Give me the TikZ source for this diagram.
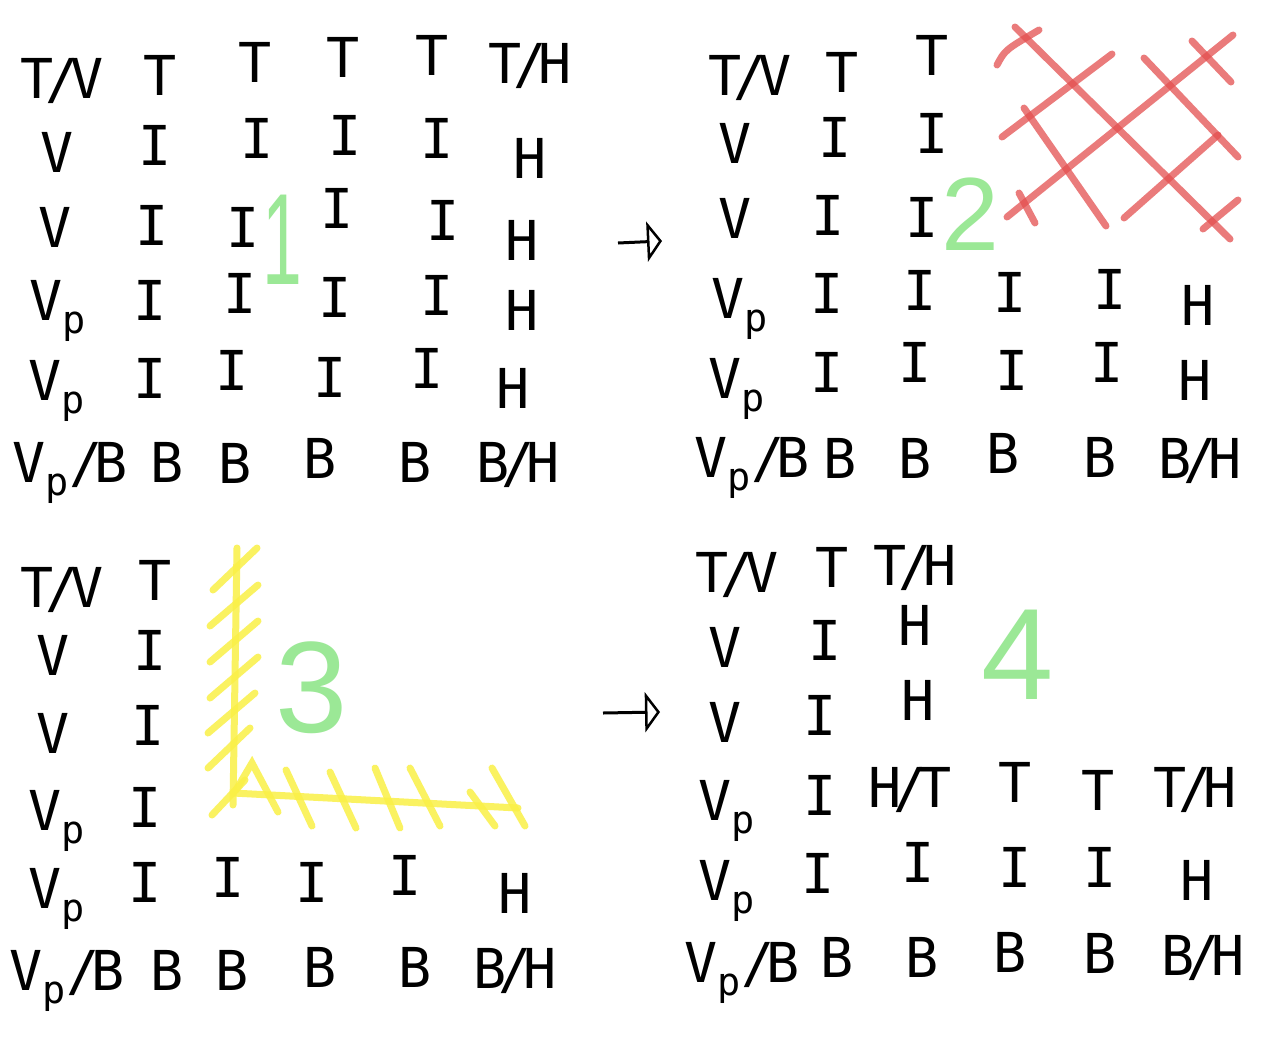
\documentclass[tikz,border=0pt]{standalone}
\usepackage{fontspec}
\setmainfont{DejaVu Sans Mono}
\newfontfamily\numfont{Liberation Sans}
\usetikzlibrary{arrows.meta}
\definecolor{hwgreen}{RGB}{155,232,150}
\definecolor{hwred}{RGB}{228,80,80}
\definecolor{hwyellow}{RGB}{250,240,70}
\tikzset{
  glyph/.style={font=\fontsize{55}{55}\selectfont, inner sep=0pt, text height=40pt, text depth=0pt, anchor=center},
  pair/.style={glyph, font=\fontsize{55}{55}\selectfont\addfontfeature{LetterSpace=-14}},
  numst/.style={font=\numfont\fontsize{130}{130}\selectfont, text=hwgreen, inner sep=0pt},
  redline/.style={draw=hwred, line width=7pt, line cap=round, opacity=0.75},
  yelline/.style={draw=hwyellow, line width=7pt, line cap=round, opacity=0.85},
  hwarrow/.style={draw=black, line width=3pt, -{Triangle[open, length=15pt, width=40pt, line width=2.5pt]}}
}
\begin{document}
\begin{tikzpicture}[x=1pt, y=-1pt]
\useasboundingbox (0,0) rectangle (1280,1045);
\fill[white] (0,0) rectangle (1280,1045);

% ---------- red cross hatch (panel 2) ----------
\draw[redline] (1015,27) -- (1230,239);
\draw[redline] (1024,108) -- (1106,226);
\draw[redline] (1144,58) -- (1238,157);
\draw[redline] (1192,41) -- (1231,82);
\draw[redline] (1019,193) -- (1035,223);
\draw[redline] (997,65) .. controls (1005,50) .. (1039,30);
\draw[redline] (1002,137) -- (1112,54);
\draw[redline] (1007,217) -- (1233,35);
\draw[redline] (1124,218) -- (1218,135);
\draw[redline] (1203,229) -- (1238,200);

% ---------- yellow L hatch (panel 3) ----------
\draw[yelline] (237,548) -- (233,805);
\draw[yelline] (233,793) -- (518,808);
\draw[yelline] (213,590) -- (257,548);
\draw[yelline] (210,626) -- (258,585);
\draw[yelline] (210,662) -- (258,621);
\draw[yelline] (210,698) -- (258,657);
\draw[yelline] (208,733) -- (255,693);
\draw[yelline] (208,768) -- (250,728);
\draw[yelline] (212,815) -- (245,780);
\draw[yelline] (236,790) -- (252,763) -- (278,812);
\draw[yelline] (286,770) -- (312,826);
\draw[yelline] (330,772) -- (356,828);
\draw[yelline] (375,768) -- (400,828);
\draw[yelline] (410,768) -- (440,826);
\draw[yelline] (470,792) -- (495,826);
\draw[yelline] (492,768) -- (525,826);

% ---------- green numbers ----------
\node[numst, xscale=0.55, transform shape] (n1) at (282,240) {1};
\node[numst, font=\numfont\fontsize{104}{104}\selectfont] (n2) at (970,214) {2};
\node[numst] (n3) at (312,688) {3};
\node[numst] (n4) at (1018,655) {4};

% ---------- panel 1 ----------
\node[pair]  (a00) at (62,78) {T/V};
\node[glyph] (a01) at (160,75) {T};
\node[glyph] (a02) at (255,62) {T};
\node[glyph] (a03) at (343,57) {T};
\node[glyph] (a04) at (432,55) {T};
\node[pair]  (a05) at (530,63) {T/H};
\node[glyph] (a10) at (57,152) {V};
\node[glyph] (a11) at (155,145) {I};
\node[glyph] (a12) at (257,138) {I};
\node[glyph] (a13) at (345,135) {I};
\node[glyph] (a14) at (437,138) {I};
\node[glyph] (a15) at (530,158) {H};
\node[glyph] (a20) at (55,227) {V};
\node[glyph] (a21) at (152,225) {I};
\node[glyph] (a22) at (243,227) {I};
\node[glyph] (a23) at (337,208) {I};
\node[glyph] (a24) at (443,220) {I};
\node[glyph] (a25) at (522,240) {H};
\node[pair]  (a30) at (58,300) {V\textsubscript{p}};
\node[glyph] (a31) at (150,300) {I};
\node[glyph] (a32) at (240,293) {I};
\node[glyph] (a33) at (335,297) {I};
\node[glyph] (a34) at (437,295) {I};
\node[glyph] (a35) at (522,310) {H};
\node[pair]  (a40) at (57,380) {V\textsubscript{p}};
\node[glyph] (a41) at (150,378) {I};
\node[glyph] (a42) at (232,370) {I};
\node[glyph] (a43) at (330,377) {I};
\node[glyph] (a44) at (427,368) {I};
\node[glyph] (a45) at (513,388) {H};
\node[pair]  (a50) at (70,462) {V\textsubscript{p}/B};
\node[glyph] (a51) at (167,462) {B};
\node[glyph] (a52) at (235,463) {B};
\node[glyph] (a53) at (320,458) {B};
\node[glyph] (a54) at (415,462) {B};
\node[pair]  (a55) at (518,462) {B/H};

% ---------- panel 2 ----------
\node[pair]  (b00) at (750,75) {T/V};
\node[glyph] (b01) at (842,72) {T};
\node[glyph] (b02) at (932,55) {T};
\node[glyph] (b10) at (735,143) {V};
\node[glyph] (b11) at (835,137) {I};
\node[glyph] (b12) at (932,133) {I};
\node[glyph] (b20) at (735,218) {V};
\node[glyph] (b21) at (828,215) {I};
\node[glyph] (b22) at (922,217) {I};
\node[pair]  (b30) at (740,298) {V\textsubscript{p}};
\node[glyph] (b31) at (827,293) {I};
\node[glyph] (b32) at (920,290) {I};
\node[glyph] (b33) at (1010,292) {I};
\node[glyph] (b34) at (1110,289) {I};
\node[glyph] (b35) at (1198,305) {H};
\node[pair]  (b40) at (737,378) {V\textsubscript{p}};
\node[glyph] (b41) at (827,372) {I};
\node[glyph] (b42) at (915,362) {I};
\node[glyph] (b43) at (1012,370) {I};
\node[glyph] (b44) at (1107,362) {I};
\node[glyph] (b45) at (1195,380) {H};
\node[pair]  (b50) at (752,457) {V\textsubscript{p}/B};
\node[glyph] (b51) at (840,458) {B};
\node[glyph] (b52) at (915,458) {B};
\node[glyph] (b53) at (1003,453) {B};
\node[glyph] (b54) at (1100,457) {B};
\node[pair]  (b55) at (1200,458) {B/H};

% ---------- panel 3 ----------
\node[pair]  (c00) at (62,587) {T/V};
\node[glyph] (c01) at (155,580) {T};
\node[glyph] (c10) at (53,655) {V};
\node[glyph] (c11) at (150,650) {I};
\node[glyph] (c20) at (53,733) {V};
\node[glyph] (c21) at (148,725) {I};
\node[pair]  (c30) at (57,810) {V\textsubscript{p}};
\node[glyph] (c31) at (145,807) {I};
\node[pair]  (c40) at (57,888) {V\textsubscript{p}};
\node[glyph] (c41) at (145,882) {I};
\node[glyph] (c42) at (228,877) {I};
\node[glyph] (c43) at (312,882) {I};
\node[glyph] (c44) at (405,875) {I};
\node[glyph] (c45) at (515,893) {H};
\node[pair]  (c50) at (67,970) {V\textsubscript{p}/B};
\node[glyph] (c51) at (167,970) {B};
\node[glyph] (c52) at (232,970) {B};
\node[glyph] (c53) at (320,967) {B};
\node[glyph] (c54) at (415,967) {B};
\node[pair]  (c55) at (515,968) {B/H};

% ---------- panel 4 ----------
\node[pair]  (d00) at (737,572) {T/V};
\node[glyph] (d01) at (832,567) {T};
\node[pair]  (d02) at (915,565) {T/H};
\node[glyph] (d10) at (725,647) {V};
\node[glyph] (d11) at (825,640) {I};
\node[glyph] (d12) at (915,625) {H};
\node[glyph] (d20) at (725,722) {V};
\node[glyph] (d21) at (820,715) {I};
\node[glyph] (d22) at (918,700) {H};
\node[pair]  (d30) at (727,800) {V\textsubscript{p}};
\node[glyph] (d31) at (820,795) {I};
\node[pair]  (d32) at (910,787) {H/T};
\node[glyph] (d33) at (1015,782) {T};
\node[glyph] (d34) at (1098,790) {T};
\node[pair]  (d35) at (1195,787) {T/H};
\node[pair]  (d40) at (727,880) {V\textsubscript{p}};
\node[glyph] (d41) at (818,873) {I};
\node[glyph] (d42) at (918,862) {I};
\node[glyph] (d43) at (1015,867) {I};
\node[glyph] (d44) at (1100,867) {I};
\node[glyph] (d45) at (1197,880) {H};
\node[pair]  (d50) at (742,962) {V\textsubscript{p}/B};
\node[glyph] (d51) at (837,957) {B};
\node[glyph] (d52) at (922,957) {B};
\node[glyph] (d53) at (1010,952) {B};
\node[glyph] (d54) at (1100,953) {B};
\node[pair]  (d55) at (1203,955) {B/H};

% ---------- arrows ----------
\coordinate (ar1s) at (618,243);
\coordinate (ar1e) at (662,241);
\coordinate (ar2s) at (603,713);
\coordinate (ar2e) at (660,712);
\draw[hwarrow] (ar1s) -- (ar1e);
\draw[hwarrow] (ar2s) -- (ar2e);
\end{tikzpicture}
\end{document}
